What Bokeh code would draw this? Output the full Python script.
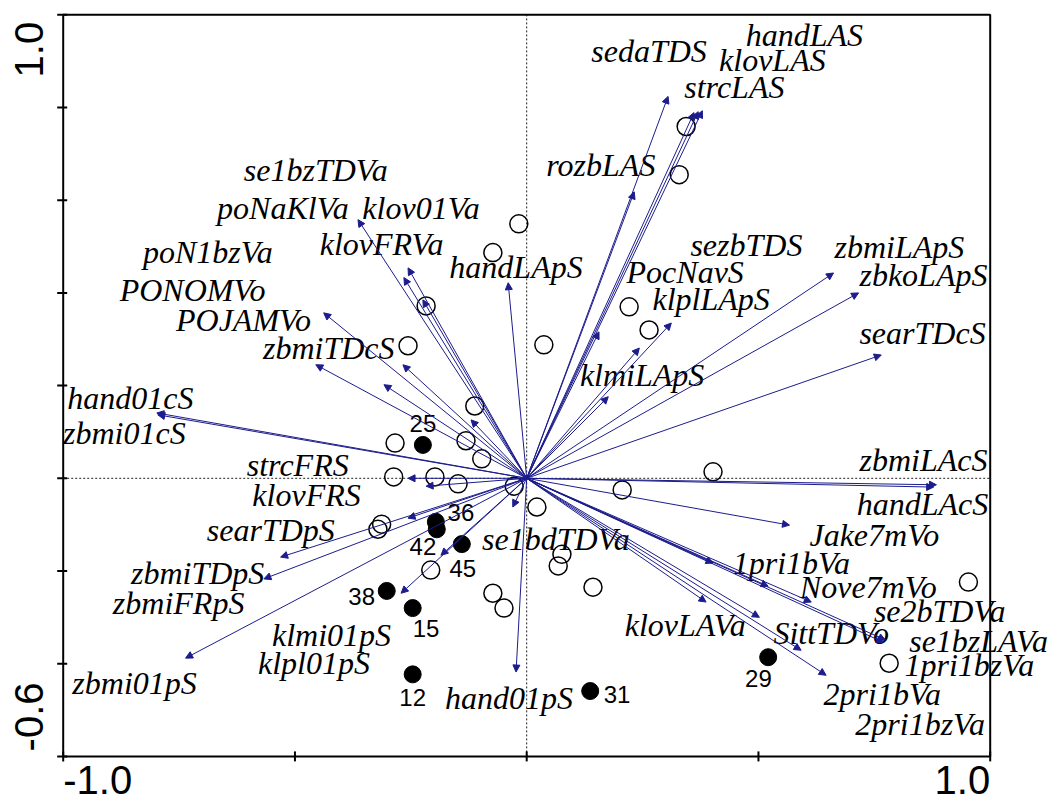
import math
from bokeh.plotting import figure
from bokeh.models import ColumnDataSource, Range1d, Arrow, NormalHead
from bokeh.embed import file_html
from bokeh.resources import INLINE
from bokeh.core.properties import value

# ---- environmental variable arrows (axis-1, axis-2 scores of arrow tips) ----
arrow_x = [0.305, 0.232, 0.361, 0.370, 0.379, 0.156, 0.243, 0.312, 0.176, 0.662, 0.716, 0.765,
           -0.364, -0.256, -0.265, -0.224, -0.438, -0.455, -0.308, -0.267, -0.120, -0.796, -0.798, -0.040,
           -0.256, -0.217, -0.256, -0.531, -0.567, -0.736, -0.185, -0.271, -0.030, -0.023,
           0.884, 0.878, 0.567, 0.521, 0.614, 0.402, 0.770, 0.774, 0.387, 0.502, 0.592, 0.646]
arrow_y = [0.824, 0.618, 0.789, 0.791, 0.793, 0.316, 0.281, 0.335, 0.176, 0.443, 0.400, 0.266,
           0.558, 0.454, 0.433, 0.385, 0.357, 0.245, 0.202, 0.245, 0.126, 0.137, 0.141, 0.422,
           0.000, -0.017, -0.086, -0.170, -0.217, -0.388, -0.166, -0.248, -0.062, -0.418,
           -0.014, -0.019, -0.101, -0.233, -0.267, -0.183, -0.354, -0.349, -0.267, -0.300, -0.371, -0.425]

# ---- variable names and where their labels sit ----
var_names = ["handLAS", "klovLAS", "strcLAS", "sedaTDS", "rozbLAS", "sezbTDS", "zbmiLApS",
             "zbkoLApS", "searTDcS", "PocNavS", "klplLApS", "klmiLApS", "handLApS",
             "se1bzTDVa", "poNaKlVa", "klov01Va", "klovFRVa", "poN1bzVa", "PONOMVo", "POJAMVo",
             "zbmiTDcS", "hand01cS", "zbmi01cS", "strcFRS", "klovFRS", "searTDpS", "zbmiTDpS",
             "zbmiFRpS", "zbmi01pS", "klmi01pS", "klpl01pS", "hand01pS", "se1bdTDVa",
             "zbmiLAcS", "handLAcS", "Jake7mVo", "1pri1bVa", "Nove7mVo", "se2bTDVa",
             "se1bzLAVa", "1pri1bzVa", "klovLAVa", "SittTDVo", "2pri1bVa", "2pri1bzVa"]
var_label_x = [0.599, 0.530, 0.448, 0.264, 0.160, 0.474, 0.804,
               0.856, 0.854, 0.342, 0.398, 0.249, -0.023,
               -0.455, -0.526, -0.228, -0.313, -0.688, -0.721, -0.611,
               -0.427, -0.855, -0.868, -0.494, -0.475, -0.552, -0.710,
               -0.751, -0.846, -0.421, -0.459, -0.038, 0.063,
               0.856, 0.854, 0.750, 0.571, 0.737, 0.891,
               0.975, 0.955, 0.342, 0.657, 0.767, 0.849]
var_label_y = [0.957, 0.903, 0.845, 0.921, 0.677, 0.504, 0.500,
               0.439, 0.314, 0.446, 0.387, 0.223, 0.456,
               0.666, 0.584, 0.584, 0.506, 0.489, 0.407, 0.342,
               0.281, 0.173, 0.098, 0.029, -0.036, -0.112, -0.205,
               -0.269, -0.442, -0.338, -0.399, -0.475, -0.131,
               0.040, -0.056, -0.122, -0.183, -0.235, -0.287,
               -0.351, -0.403, -0.317, -0.334, -0.466, -0.531]

# ---- samples (open circles) ----
open_x = [0.344, 0.329, -0.017, -0.073, -0.217, 0.221, 0.264, 0.037, -0.256, -0.112,
          -0.284, -0.131, -0.097, -0.287, -0.198, -0.148, -0.027, 0.402, 0.206, 0.022,
          0.076, 0.068, 0.143, -0.313, -0.321, -0.207, -0.073, -0.049, 0.953, 0.782]
open_y = [0.759, 0.655, 0.549, 0.487, 0.372, 0.370, 0.320, 0.288, 0.286, 0.156,
          0.076, 0.081, 0.042, 0.003, 0.003, -0.012, -0.017, 0.014, -0.025, -0.062,
          -0.164, -0.189, -0.235, -0.099, -0.110, -0.198, -0.248, -0.280, -0.224, -0.399]

# ---- samples (filled circles, numbered) ----
sample_ids = ["25", "36", "42", "45", "38", "15", "12", "31", "29"]
sample_x = [-0.224, -0.196, -0.194, -0.140, -0.302, -0.246, -0.246, 0.137, 0.521]
sample_y = [0.072, -0.094, -0.110, -0.142, -0.243, -0.280, -0.423, -0.459, -0.386]
sample_label_x = [-0.224, -0.142, -0.224, -0.138, -0.356, -0.217, -0.246, 0.195, 0.500]
sample_label_y = [0.119, -0.073, -0.148, -0.194, -0.254, -0.325, -0.472, -0.466, -0.431]

# ---- axes ----
x_lim = [-1.0, 1.0]
y_lim = [-0.6, 1.0]
x_ticks = [-1.0, -0.5, 0.0, 0.5, 1.0]
y_ticks = [-0.6, -0.4, -0.2, 0.0, 0.2, 0.4, 0.6, 0.8, 1.0]
x_tick_labels = ["-1.0", "1.0"]
y_tick_labels = ["-0.6", "1.0"]

# ---- layout (pixels) ----
W, H = 1050, 804
PPU = 463.5                       # pixels per data unit
PAD_L, PAD_T = 62.7, 14.3         # frame offset from the canvas corner
u = 1.0 / PPU                     # one pixel in data units

NAVY = "#1c1c8c"

x0 = x_lim[0] - PAD_L * u
y1 = y_lim[1] + PAD_T * u
p = figure(width=W, height=H,
           x_range=Range1d(x0, x0 + W * u), y_range=Range1d(y1 - H * u, y1),
           output_backend="svg", toolbar_location=None,
           x_axis_type=None, y_axis_type=None, min_border=0)
p.grid.visible = False
p.outline_line_color = None
p.background_fill_color = "white"
p.border_fill_color = "white"

# dotted zero lines
p.segment(x0=[x_lim[0], 0.0], y0=[0.0, y_lim[0]], x1=[x_lim[1], 0.0], y1=[0.0, y_lim[1]],
          line_color="#222222", line_dash="2 2", line_width=1)

# frame
p.quad(left=[x_lim[0]], right=[x_lim[1]], bottom=[y_lim[0]], top=[y_lim[1]],
       fill_color=None, line_color="black", line_width=2)

# tick marks (crossing the frame)
p.segment(x0=x_ticks, x1=x_ticks, y0=[y_lim[0] - 5 * u] * len(x_ticks),
          y1=[y_lim[0] + 5 * u] * len(x_ticks), line_color="black", line_width=2)
p.segment(x0=[x_lim[0] - 6 * u] * len(y_ticks), x1=[x_lim[0] + 4 * u] * len(y_ticks),
          y0=y_ticks, y1=y_ticks, line_color="black", line_width=2)

# arrows
asrc = ColumnDataSource(dict(x0=[0.0] * len(arrow_x), y0=[0.0] * len(arrow_y), x1=arrow_x, y1=arrow_y))
p.add_layout(Arrow(source=asrc, x_start="x0", y_start="y0", x_end="x1", y_end="y1",
                   line_color=NAVY, line_width=1,
                   end=NormalHead(size=7, fill_color=NAVY, line_color=NAVY, line_width=1)))

# sample points
p.scatter(open_x, open_y, marker="circle", size=18, fill_color=None,
          line_color="black", line_width=1.5)
p.scatter(sample_x, sample_y, marker="circle", size=17, fill_color="black",
          line_color="black")

# variable labels
p.text(x=var_label_x, y=var_label_y, text=var_names, text_align="center",
       text_baseline="middle", text_font=value("Liberation Serif"),
       text_font_style="italic", text_font_size="32px", text_color="black")

# sample labels
p.text(x=sample_label_x, y=sample_label_y, text=sample_ids, text_align="center",
       text_baseline="middle", text_font=value("Liberation Sans"),
       text_font_size="24px", text_color="black")

# end tick labels
tick_font = value("Liberation Sans")
p.text(x=[x_ticks[0]], y=[y_lim[0] - 10 * u], text=[x_tick_labels[0]], text_align="left",
       text_baseline="top", text_font=tick_font, text_font_size="40px")
p.text(x=[x_ticks[-1]], y=[y_lim[0] - 10 * u], text=[x_tick_labels[1]], text_align="right",
       text_baseline="top", text_font=tick_font, text_font_size="40px")
p.text(x=[x_lim[0] - 34 * u], y=[y_ticks[-1] - 7 * u], text=[y_tick_labels[1]], angle=math.pi / 2,
       text_align="right", text_baseline="alphabetic", text_font=tick_font, text_font_size="40px")
p.text(x=[x_lim[0] - 34 * u], y=[y_ticks[0] + 5 * u], text=[y_tick_labels[0]], angle=math.pi / 2,
       text_align="left", text_baseline="alphabetic", text_font=tick_font, text_font_size="40px")

open("out.html", "w").write(file_html(p, INLINE))
